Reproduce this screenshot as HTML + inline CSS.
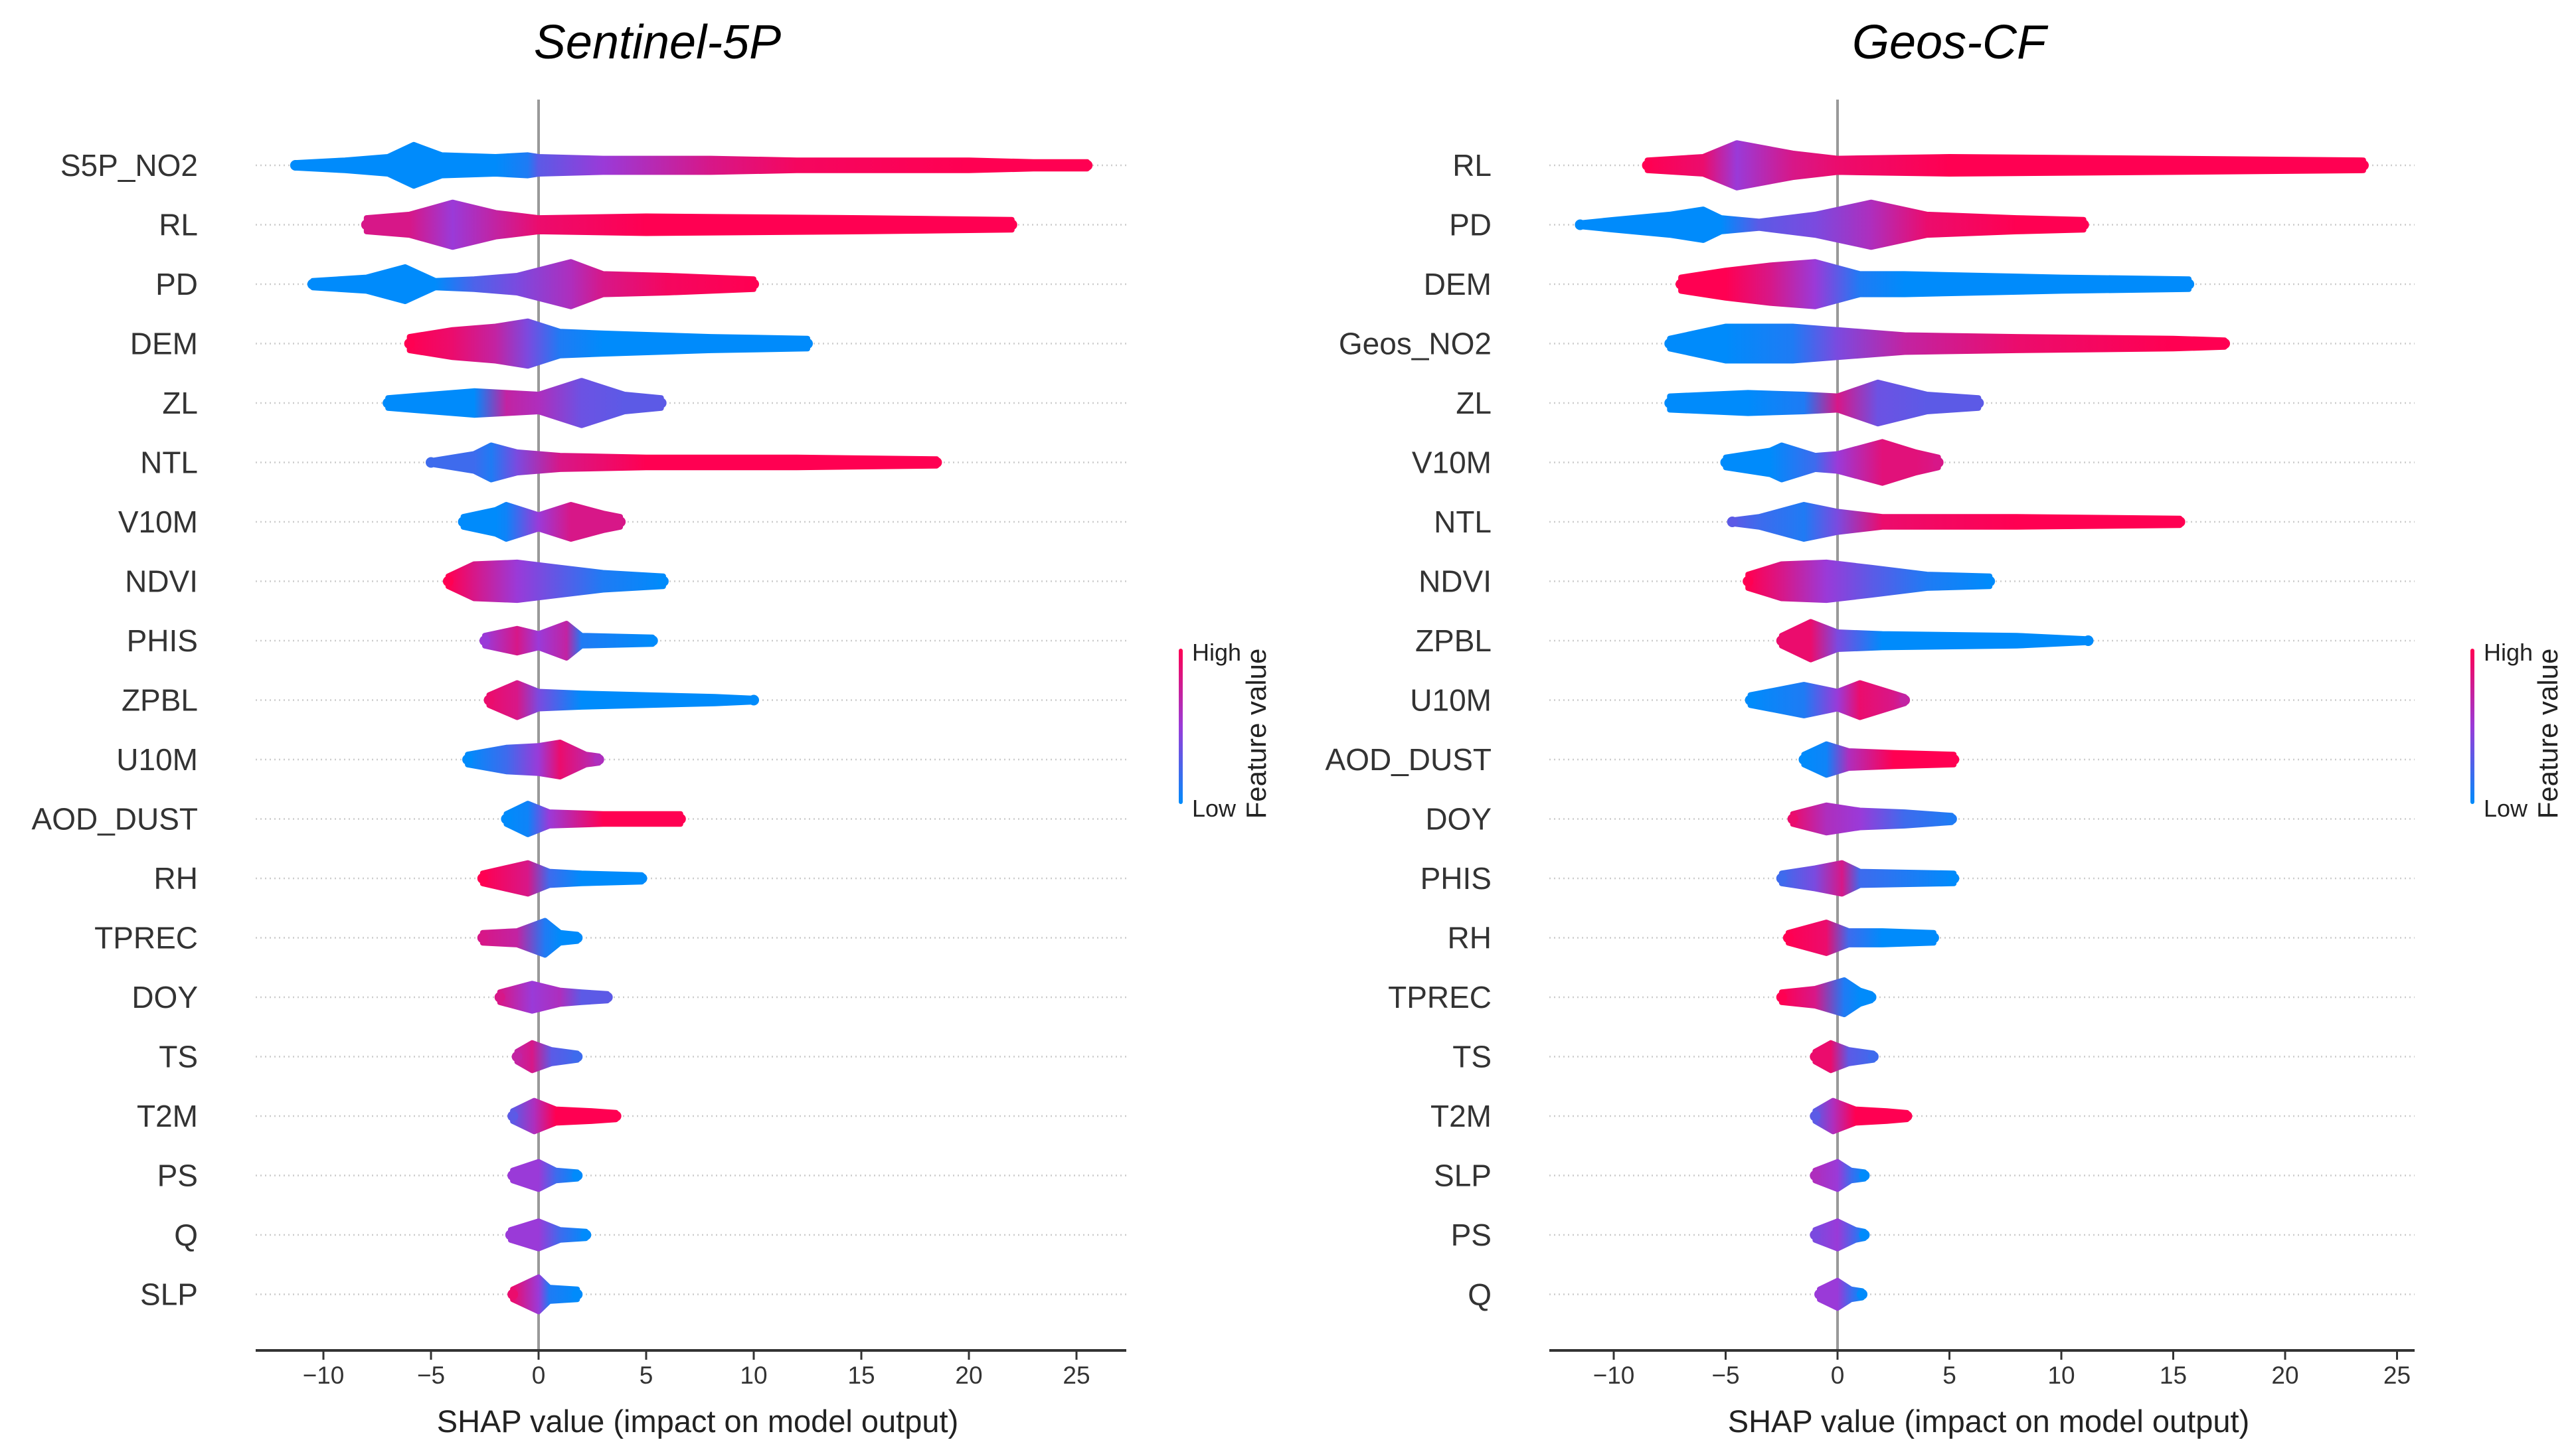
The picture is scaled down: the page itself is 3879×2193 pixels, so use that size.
<!DOCTYPE html>
<html><head><meta charset="utf-8"><style>
html,body{margin:0;padding:0;background:#fff}
svg{display:block}
text{font-family:"Liberation Sans",sans-serif}
</style></head><body>
<svg id="chart" width="3879" height="2193" viewBox="0 0 3879 2193" xmlns="http://www.w3.org/2000/svg">
<defs>
<linearGradient id="cbar" x1="0" y1="1" x2="0" y2="0">
<stop offset="0" stop-color="#008bfb"/><stop offset="0.5" stop-color="#9a3ad8"/><stop offset="1" stop-color="#ff0052"/>
</linearGradient>
</defs>
</svg>
<script>
// Left panel (Sentinel-5P): feature names and knots [shap value, density half-height, feature colour 0..1]
const leftFeatures = ["S5P_NO2","RL","PD","DEM","ZL","NTL","V10M","NDVI","PHIS","ZPBL","U10M","AOD_DUST","RH","TPREC","DOY","TS","T2M","PS","Q","SLP"];
const leftKnots = [
[[-11.3,1.5,0],[-9,3,0],[-7,5,0],[-5.8,12,0],[-4.5,6,0],[-2,5,0],[-0.5,6,0.1],[0,5,0.3],[3,4,0.5],[8,4,0.8],[12,3,0.95],[20,3,1],[23,2,1],[25.5,2,1]],
[[-8,4,0.8],[-6,6,0.8],[-4,13,0.5],[-2,7,0.7],[0,4,0.9],[5,5,1],[15,4,1],[22,3,1]],
[[-10.5,2,0],[-8,4,0],[-6.2,10,0],[-4.8,2,0],[-3,3,0.25],[-1,5,0.4],[1.5,13,0.6],[3,6,0.8],[6,5,0.95],[10,3,1]],
[[-6,4,1],[-4,8,0.9],[-2,10,0.7],[-0.5,13,0.4],[1,7,0.1],[3,6,0],[8,4,0],[12.5,3,0]],
[[-7,3,0],[-5,5,0],[-3,7,0],[-1.5,6,0.7],[0,5,0.6],[2,13,0.35],[4,5,0.3],[5.7,3,0.3]],
[[-5,1,0.2],[-3,5,0.2],[-2.2,10,0.1],[-1,6,0.4],[1,4,0.8],[5,3,1],[12,3,1],[18.5,2,1]],
[[-3.5,3,0],[-2,7,0],[-1.5,10,0.05],[0,4,0.5],[1.5,10,0.8],[3,5,0.8],[3.8,3,0.8]],
[[-4.2,3,1],[-3,10,0.8],[-1,11,0.5],[1,8,0.3],[3,5,0.1],[5.8,3,0]],
[[-2.5,3,0.5],[-1,7,0.8],[0,4,0.5],[1.3,10,0.7],[2,3,0.1],[5.3,2,0]],
[[-2.3,3,0.9],[-1,10,0.8],[0,5,0.4],[2,4,0],[8.2,2,0],[10,1,0]],
[[-3.3,3,0],[-1.5,7,0.2],[0,8,0.5],[1,10,0.9],[2.2,3,0.7],[2.8,2,0.6]],
[[-1.5,3,0],[-0.5,9,0.05],[0.5,4,0.5],[3,3,1],[6.6,3,1]],
[[-2.6,3,1],[-0.5,9,0.8],[0.5,4,0.2],[2,3,0],[4.8,2,0]],
[[-2.6,3,0.8],[-1,4,0.7],[0.3,10,0.1],[1,3,0],[1.8,2,0]],
[[-1.8,3,0.8],[-0.3,8,0.5],[1,4,0.6],[2,3,0.3],[3.2,2,0.3]],
[[-1,3,0.7],[-0.3,8,0.8],[0.6,4,0.3],[1.8,2,0.2]],
[[-1.2,3,0.3],[-0.2,9,0.6],[0.8,4,1],[2.5,3,1],[3.6,2,1]],
[[-1.2,3,0.5],[0,8,0.5],[0.8,3,0.2],[1.8,2,0]],
[[-1.3,3,0.5],[0,8,0.5],[1,3,0.2],[2.2,2,0]],
[[-1.2,3,0.9],[0,10,0.5],[0.5,4,0.1],[1.8,3,0]]
];
// Right panel (Geos-CF)
const rightFeatures = ["RL","PD","DEM","Geos_NO2","ZL","V10M","NTL","NDVI","ZPBL","U10M","AOD_DUST","DOY","PHIS","RH","TPREC","TS","T2M","SLP","PS","Q"];
const rightKnots = [
[[-8.5,3,1],[-6,5,0.9],[-4.5,13,0.5],[-2,7,0.8],[0,4,0.9],[5,5,1],[15,4,1],[23.5,3,1]],
[[-11.5,1,0],[-10,3,0],[-7.5,6,0],[-6,9,0],[-5.2,4,0],[-3.5,2,0.3],[-1,6,0.4],[1.5,13,0.6],[4,6,0.9],[8,4,1],[11,3,1]],
[[-7,4,1],[-5,8,1],[-3,11,0.8],[-1,13,0.5],[1,6,0.1],[3,6,0],[10,4,0],[15.7,3,0]],
[[-7.5,3,0],[-5,10,0],[-2,10,0.1],[0,8,0.4],[3,5,0.7],[8,4,0.9],[15,3,1],[17.3,2,1]],
[[-7.5,4,0],[-4,6,0],[-1.5,5,0.1],[0,4,0.8],[1.8,12,0.35],[4,5,0.3],[6.3,3,0.3]],
[[-5,3,0],[-3,7,0],[-2.5,10,0.05],[-1,4,0.2],[0,5,0.5],[2,12,0.85],[3.5,6,0.85],[4.5,3,0.8]],
[[-4.7,1,0.3],[-3.5,3,0.2],[-1.5,10,0.1],[0,6,0.4],[2,3,0.9],[8,3,1],[15.3,2,1]],
[[-4,4,1],[-2.5,10,0.8],[-0.5,11,0.5],[1.5,8,0.3],[4,4,0.1],[6.8,3,0]],
[[-2.5,3,0.9],[-1.2,11,0.9],[0,5,0.4],[2,4,0],[8,3,0],[11.2,1,0]],
[[-3.9,3,0],[-1.5,9,0.1],[0,5,0.5],[1,10,0.9],[2.5,4,0.8],[3,2,0.7]],
[[-1.5,3,0],[-0.5,9,0.05],[0.5,5,0.6],[2.5,4,1],[5.2,3,1]],
[[-2,3,0.9],[-0.5,8,0.6],[1,5,0.5],[3,4,0.2],[5.1,2,0.1]],
[[-2.5,3,0.2],[-1,6,0.4],[0.2,9,0.8],[1,4,0.2],[5.2,3,0]],
[[-2.2,3,1],[-0.5,9,0.9],[0.5,4,0.2],[2,4,0],[4.3,3,0]],
[[-2.5,3,1],[-1,5,0.8],[0.3,10,0.1],[1,4,0],[1.5,2,0]],
[[-1,3,0.9],[-0.3,8,0.9],[0.5,4,0.3],[1.6,2,0.2]],
[[-1,3,0.3],[-0.2,9,0.6],[0.8,4,1],[2.2,3,1],[3.1,2,1]],
[[-1,3,0.6],[0,8,0.5],[0.6,3,0.2],[1.2,2,0]],
[[-1,3,0.4],[0,8,0.5],[0.8,3,0.2],[1.2,2,0]],
[[-0.8,3,0.5],[0,8,0.5],[0.6,3,0.2],[1.1,2,0]]
];
const tickValues = [-10,-5,0,5,10,15,20,25];
const tickLabels = ["\u221210","\u22125","0","5","10","15","20","25"];

const svg = document.getElementById('chart');
const NS = "http://www.w3.org/2000/svg";
function mk(tag, attrs, parent){ const e=document.createElementNS(NS,tag); for(const k in attrs) e.setAttribute(k,attrs[k]); (parent||svg).appendChild(e); return e; }
function col(c){
  const a=[0,139,251], m=[154,58,216], b=[255,0,82];
  let r; if(c<0.5){const t=c/0.5; r=a.map((v,i)=>v+(m[i]-v)*t);} else {const t=(c-0.5)/0.5; r=m.map((v,i)=>v+(b[i]-v)*t);}
  return `rgb(${r.map(Math.round).join(',')})`;
}
const defs = svg.querySelector('defs');
const rowY = i => 249 + i*89.5;
const HS = 2.6;
const AXY = 2034;

function panel(p){
  const g = mk('g',{});
  
  
  const X = v => p.zero + p.unit*v;
  const t = mk('text',{x:p.titleX,y:88,'font-size':72,'font-style':'italic','text-anchor':'middle',fill:'#000'},g);
  t.textContent = p.title;
  
  
  p.features.forEach((f,i)=>{
    const y=rowY(i);
    const gl = mk('line',{x1:p.x0,x2:p.x1,y1:y,y2:y,stroke:'#ccc','stroke-width':2.5,'stroke-dasharray':'2,5'},g);
    
    
    const lb = mk('text',{x:p.labelX,y:y+16,'font-size':46,'text-anchor':'end',fill:'#333'},g);
    lb.textContent = f;
    
    
  });
  const zl = mk('line',{x1:X(0),x2:X(0),y1:150,y2:AXY,stroke:'#999','stroke-width':4},g);
  
  
  p.knots.forEach((ks,i)=>{
    const y=rowY(i);
    const gid = p.id+'g'+i;
    const lg = mk('linearGradient',{id:gid,gradientUnits:'userSpaceOnUse',x1:X(ks[0][0]),x2:X(ks[ks.length-1][0]),y1:0,y2:0},defs);
    const span = ks[ks.length-1][0]-ks[0][0];
    ks.forEach(k=>mk('stop',{offset:((k[0]-ks[0][0])/span).toFixed(4),'stop-color':col(k[2])},lg));
    const top = ks.map(k=>`${X(k[0]).toFixed(1)},${(y-k[1]*HS).toFixed(1)}`);
    const bot = ks.slice().reverse().map(k=>`${X(k[0]).toFixed(1)},${(y+k[1]*HS).toFixed(1)}`);
    const first=ks[0], last=ks[ks.length-1];
    const sw = mk('polygon',{points:top.concat(bot).join(' '),fill:`url(#${gid})`,stroke:`url(#${gid})`,'stroke-width':8,'stroke-linejoin':'round'},g);
    
    
    [first,last].forEach(k=>{
      const c = mk('circle',{cx:X(k[0]),cy:y,r:8,fill:col(k[2])},g);
      
      
    });
  });
  const ax = mk('line',{x1:p.x0,x2:p.x1,y1:AXY,y2:AXY,stroke:'#333','stroke-width':4},g);
  
  
  tickValues.forEach((v,i)=>{
    const tk = mk('line',{x1:X(v),x2:X(v),y1:AXY,y2:AXY+14,stroke:'#333','stroke-width':3},g);
    
    
    const tl = mk('text',{x:X(v),y:AXY+50,'font-size':37,'text-anchor':'middle',fill:'#333'},g);
    tl.textContent = tickLabels[i];
    
    
  });
  const xt = mk('text',{x:(p.x0+p.x1)/2+10,y:2157,'font-size':47,'text-anchor':'middle',fill:'#222'},g);
  xt.textContent = 'SHAP value (impact on model output)';
  
  
  const cb = mk('rect',{x:p.cbX-3,y:977,width:6,height:234,fill:'url(#cbar)',rx:3},g);
  
  
  const hi = mk('text',{x:p.cbX+17,y:995,'font-size':36,fill:'#222'},g); hi.textContent='High';
  
  
  const lo = mk('text',{x:p.cbX+17,y:1230,'font-size':36,fill:'#222'},g); lo.textContent='Low';
  
  
  const fv = mk('text',{x:p.cbX+128,y:1105,'font-size':42,'text-anchor':'middle',fill:'#222',transform:`rotate(-90 ${p.cbX+128} 1105)`},g);
  fv.textContent='Feature value';
  
  
}
panel({name:'sentinel-5p-panel',id:'L',title:'Sentinel-5P',titleX:990,features:leftFeatures,knots:leftKnots,zero:811,unit:32.4,x0:385,x1:1696,labelX:298,cbX:1778});
panel({name:'geos-cf-panel',id:'R',title:'Geos-CF',titleX:2935,features:rightFeatures,knots:rightKnots,zero:2767,unit:33.7,x0:2333,x1:3636,labelX:2246,cbX:3723});
</script>
</body></html>
